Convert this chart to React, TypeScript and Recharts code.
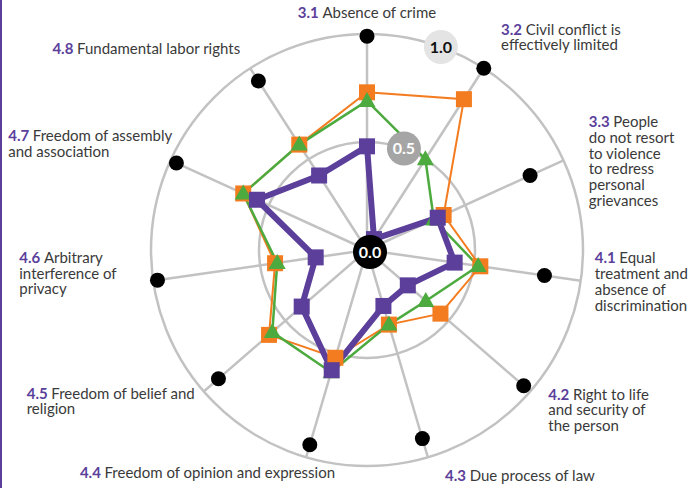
import { PolarAngleAxis, PolarGrid, PolarRadiusAxis, Radar, RadarChart } from 'recharts';

const codes = ['3.1', '3.2', '3.3', '4.1', '4.2', '4.3', '4.4', '4.5', '4.6', '4.7', '4.8'];
const labelLines = [
  ['Absence of crime'],
  ['Civil conflict is', 'effectively limited'],
  ['People', 'do not resort', 'to violence', 'to redress', 'personal', 'grievances'],
  ['Equal', 'treatment and', 'absence of', 'discrimination'],
  ['Right to life', 'and security of', 'the person'],
  ['Due process of law'],
  ['Freedom of opinion and expression'],
  ['Freedom of belief and', 'religion'],
  ['Arbitrary', 'interference of', 'privacy'],
  ['Freedom of assembly', 'and association'],
  ['Fundamental labor rights'],
];

const countryScores = [0.48, 0.06, 0.36, 0.41, 0.25, 0.27, 0.58, 0.4, 0.24, 0.56, 0.41];
const regionScores = [0.73, 0.83, 0.39, 0.53, 0.45, 0.36, 0.52, 0.6, 0.43, 0.63, 0.58];
const incomeScores = [0.69, 0.5, 0.34, 0.52, 0.36, 0.36, 0.59, 0.58, 0.42, 0.63, 0.58];
const topScores = [0.99, 1.0, 0.83, 0.83, 0.96, 0.91, 0.94, 0.91, 0.98, 0.97, 0.93];
const radiusTicks = [0, 0.5, 1];

const data = codes.map((code, i) => ({
  code,
  country: countryScores[i],
  region: regionScores[i],
  income: incomeScores[i],
  top: topScores[i],
}));

// where each label block sits relative to its tick point
const labelLayout = [
  { dx: 0, dy: -13, anchor: 'middle' },
  { dx: 13, dy: -32, anchor: 'start' },
  { dx: 18, dy: -35, anchor: 'start' },
  { dx: 6, dy: -23.5, anchor: 'start' },
  { dx: 12, dy: -2, anchor: 'start' },
  { dx: 15, dy: 11.5, anchor: 'start' },
  { dx: -224, dy: 8, anchor: 'start' },
  { dx: -171, dy: -3, anchor: 'start' },
  { dx: -126, dy: -24, anchor: 'start' },
  { dx: -155, dy: -20.5, anchor: 'start' },
  { dx: -193.5, dy: -13, anchor: 'start' },
];

const PURPLE = '#5b3f9b';
const ORANGE = '#f47c20';
const GREEN = '#4caa3e';
const GRID = '#c2c2c2';
const TEXT = '#3a3a3a';
const FONT = 'Lato, "Open Sans", sans-serif';

const W = 696;
const H = 488;
const CX = 367;
const CY = 250;
const R = 216;

const AngleTick = (props: any) => {
  const { x, y, payload, index } = props;
  const i = typeof index === 'number' ? index : codes.indexOf(payload.value);
  const lay = labelLayout[i];
  const lines = labelLines[i];
  const lh = 15.8;
  return (
    <g>
      {lines.map((line, k) => (
        <text
          key={k}
          x={x + lay.dx}
          y={y + lay.dy + k * lh + 5}
          textAnchor={lay.anchor}
          fontFamily={FONT}
          fontSize={15}
          fill={TEXT}
        >
          {k === 0 && (
            <tspan fill={PURPLE} fontWeight="bold">
              {codes[i] + ' '}
            </tspan>
          )}
          {line}
        </text>
      ))}
    </g>
  );
};

const RadiusTick = (props: any) => {
  const { x, y, payload } = props;
  const v = payload.value;
  const bg = v === 0 ? '#000000' : v === 0.5 ? '#a5a5a5' : '#e4e4e4';
  const fg = v === 1 ? '#111111' : '#ffffff';
  // the 0.0 badge sits a touch off the centre in the original
  const ox = v === 0 ? 3 : 0;
  const oy = v === 0 ? 2 : 0;
  return (
    <g>
      <circle cx={x + ox} cy={y + oy} r={17} fill={bg} />
      <text x={x + ox} y={y + oy + 5.5} textAnchor="middle" fontFamily={FONT} fontWeight="bold" fontSize={16} fill={fg}>
        {Number(v).toFixed(1)}
      </text>
    </g>
  );
};

const square = (size: number, color: string) => (props: any) => (
  <rect key={props.index} x={props.cx - size / 2} y={props.cy - size / 2} width={size} height={size} fill={color} />
);

const triangle = (props: any) => {
  const { cx, cy } = props;
  return <path key={props.index} d={`M${cx},${cy - 9} L${cx + 8.5},${cy + 6} L${cx - 8.5},${cy + 6} Z`} fill={GREEN} />;
};

const blackDot = (props: any) => <circle key={props.index} cx={props.cx} cy={props.cy} r={7.5} fill="#000" />;

export default function App() {
  return (
    <div style={{ position: 'absolute', left: 0, top: 0, width: W, height: H, background: '#fff' }}>
      <div style={{ position: 'absolute', left: 0, top: 0, width: 2, height: H, background: PURPLE }} />
      <div style={{ position: 'absolute', left: 0, top: 0 }}>
        <RadarChart width={W} height={H} data={data} cx={CX} cy={CY} outerRadius={R} startAngle={90} endAngle={-270}>
          <PolarGrid gridType="circle" stroke={GRID} strokeWidth={2.5} />
          <PolarAngleAxis dataKey="code" tick={AngleTick} tickLine={false} axisLine={false} />
          <PolarRadiusAxis angle={70} domain={[0, 1]} ticks={radiusTicks} tick={false} axisLine={false} />
          <Radar dataKey="top" stroke="none" fill="none" dot={blackDot} isAnimationActive={false} />
          <Radar dataKey="region" stroke={ORANGE} strokeWidth={2} fill="none" dot={square(16, ORANGE)} isAnimationActive={false} />
          <Radar dataKey="income" stroke={GREEN} strokeWidth={2.5} fill="none" dot={triangle} isAnimationActive={false} />
          <Radar
            dataKey="country"
            stroke={PURPLE}
            strokeWidth={6}
            strokeLinejoin="round"
            fill="none"
            dot={square(16, PURPLE)}
            isAnimationActive={false}
          />
        </RadarChart>
      </div>
      {/* scale badges drawn on top of the series */}
      <div style={{ position: 'absolute', left: 0, top: 0 }}>
        <RadarChart width={W} height={H} data={data} cx={CX} cy={CY} outerRadius={R} startAngle={90} endAngle={-270}>
          <PolarAngleAxis dataKey="code" tick={false} tickLine={false} axisLine={false} />
          <PolarRadiusAxis angle={70} domain={[0, 1]} ticks={radiusTicks} tick={RadiusTick} axisLine={false} />
          <Radar dataKey="top" stroke="none" fill="none" dot={false} isAnimationActive={false} />
        </RadarChart>
      </div>
    </div>
  );
}
